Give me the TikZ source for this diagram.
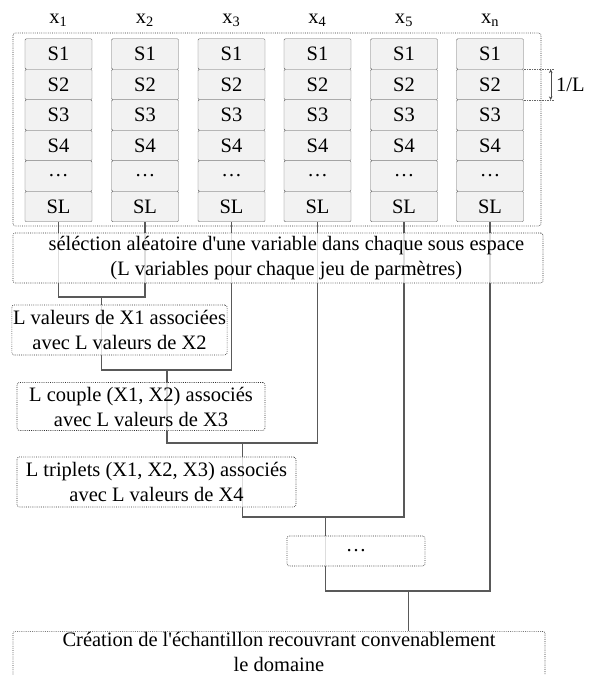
\documentclass[tikz,border=0pt]{standalone}
\usepackage{fontspec}
\setmainfont{Liberation Serif}
\usetikzlibrary{positioning,backgrounds,arrows.meta}

\begin{document}
\begin{tikzpicture}[x=0.03cm,y=-0.03cm,>={Stealth[length=3pt,width=3pt]},
    font=\fontsize{17.5}{21.3}\selectfont,
    cell/.style={draw=black!60,fill=black!5,rounded corners=1pt,inner sep=0pt,minimum width=2.01cm,minimum height=0.915cm},
    dotbox/.style={draw=black!80,densely dotted,line width=0.6pt,rounded corners=2pt,fill=white,fill opacity=0.8,text opacity=1,align=center,inner sep=1pt},
    link/.style={draw=black!65,line width=0.9pt}]
  \clip (0,0) rectangle (588,675);
  % columns of sub spaces
  \foreach \c/\xc/\lab in {1/58.5/1,2/145/2,3/231.5/3,4/317.5/4,5/404/5,6/490/n}{
    \node (lab\c) at (\xc,20) {x\textsubscript{\lab}};
    \foreach \r/\t in {1/S1,2/S2,3/S3,4/S4,5/{\dots},6/SL}
      \node[cell] (col\c-\r) at (\xc,{23.5+30.5*\r}) {\t};
  }
  \draw[draw=black!80,densely dotted,line width=0.6pt,rounded corners=2pt] (13,33) rectangle (541,226);
  % size of one sub space
  \draw[draw=black!60,densely dotted] (col6-1.south east) -- ++(30,0);
  \draw[draw=black!60,densely dotted] (col6-2.south east) -- ++(30,0);
  \path (col6-1.south east) ++(27,0) coordinate (d1);
  \path (col6-2.south east) ++(27,0) coordinate (d2);
  \draw[<->,black!70] (d1) -- node[right=1pt,text=black] {1/L} (d2);
  % boxes
  \node[dotbox,minimum width=15.9cm,minimum height=1.5cm] (sel) at (278,258) {\hspace*{0.5cm}séléction aléatoire d\textquotesingle une variable dans chaque sous espace\\\hspace*{0.5cm}(L variables pour chaque jeu de parmètres)};
  \node[dotbox,minimum width=6.39cm,minimum height=1.5cm] (b1) at (119.5,330) {L valeurs de X1 associées\\avec L valeurs de X2};
  \node[dotbox,minimum width=7.44cm,minimum height=1.44cm] (b2) at (141,406.5) {L couple (X1, X2) associés\\avec L valeurs de X3};
  \node[dotbox,minimum width=8.37cm,minimum height=1.5cm] (b3) at (156.5,482) {L triplets (X1, X2, X3) associés\\avec L valeurs de X4};
  \node[dotbox,minimum width=4.14cm,minimum height=0.9cm] (b4) at (356,551) {\dots};
  \node[dotbox,minimum width=15.96cm,anchor=north] (fin) at (279,631) {Création de l\textquotesingle échantillon recouvrant convenablement\\le domaine\\\strut};
  % connectors
  \begin{scope}[on background layer]
    \coordinate (j1) at (101.5,297);
    \coordinate (j2) at (167,370);
    \coordinate (j3) at (242.5,443);
    \coordinate (j4) at (325.5,517);
    \coordinate (j5) at (408.5,591);
    \draw[link] (col1-6.south) |- (j1) -| (col2-6.south);
    \draw[link] (j1) |- (j2) -| (col3-6.south);
    \draw[link] (j2) |- (j3) -| (col4-6.south);
    \draw[link] (j3) |- (j4) -| (col5-6.south);
    \draw[link] (j4) |- (j5) -| (col6-6.south);
    \draw[link] (j5) -- (j5 |- fin.north);
  \end{scope}
\end{tikzpicture}
\end{document}
